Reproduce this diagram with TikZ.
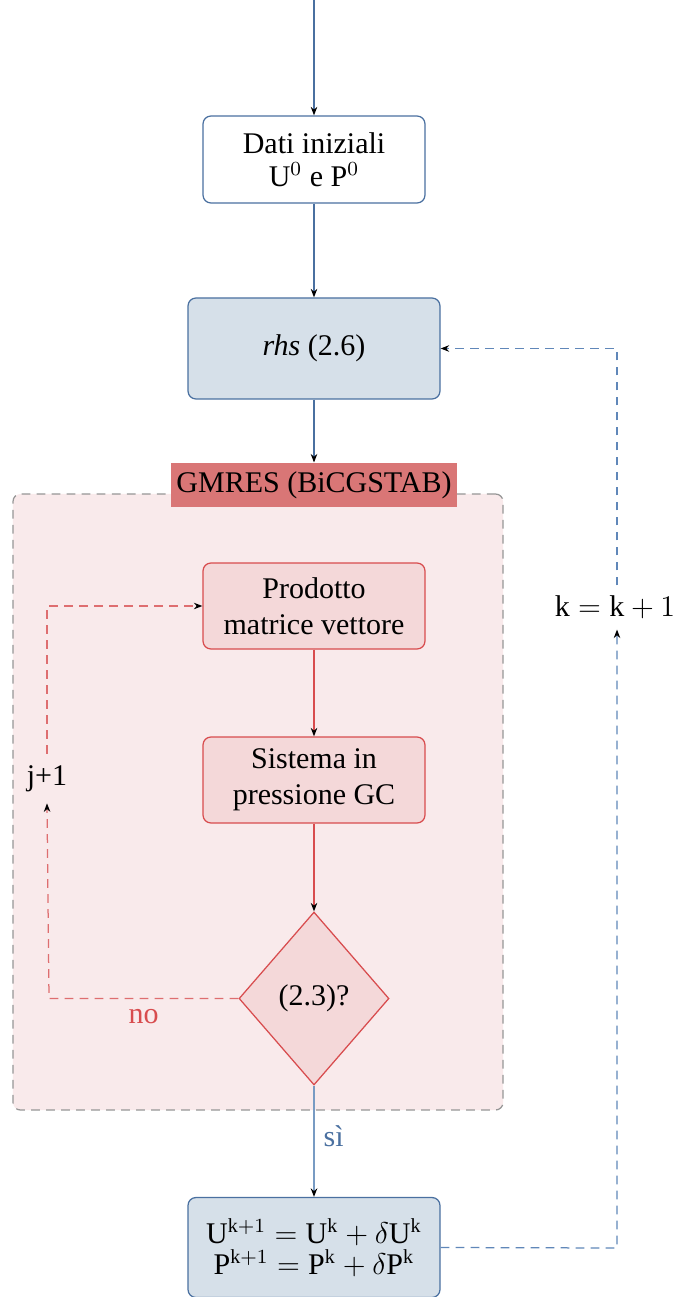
\documentclass[tikz,border=0pt]{standalone}
\usepackage{fontspec}
\setmainfont{Liberation Serif}
\usetikzlibrary{shapes.geometric,arrows.meta}
\definecolor{bborder}{RGB}{74,112,160}
\definecolor{bfill}{RGB}{214,224,233}
\definecolor{bdash}{RGB}{96,135,185}
\definecolor{bline}{RGB}{120,155,195}
\definecolor{rborder}{RGB}{216,76,78}
\definecolor{rfill}{RGB}{244,216,217}
\definecolor{pinkbg}{RGB}{249,234,235}
\definecolor{glabel}{RGB}{217,118,118}
\definecolor{gdash}{RGB}{150,150,150}
\definecolor{rdash}{RGB}{222,110,112}
\newcommand{\mU}{\mathrm{U}}
\newcommand{\mP}{\mathrm{P}}
\newcommand{\mk}{\mathrm{k}}
\begin{document}
\begin{tikzpicture}[x=0.4pt,y=-0.4pt,
  every node/.style={font=\fontsize{12}{14.4}\selectfont, align=center},
  tip/.style={-{Stealth[black,length=3.4pt,width=2.6pt]}},
  bluebox/.style={draw=bborder, line width=0.5pt, rounded corners=3.2pt},
  redbox/.style={draw=rborder, fill=rfill, line width=0.5pt, rounded corners=3.2pt,
    minimum width=88.8pt, minimum height=34.4pt, inner sep=1pt},
  dashpat/.style={dash pattern=on 3.5pt off 2.5pt},
  lbl/.style={inner sep=0pt}
]
\useasboundingbox (0,0) rectangle (677,1297);
% container
\node[draw=gdash, fill=pinkbg, dashpat, line width=0.5pt, rounded corners=3pt,
  minimum width=196pt, minimum height=246.4pt, inner sep=0pt] (gm) at (258,802) {};
\node[fill=glabel, minimum width=114.4pt, minimum height=17.6pt, inner sep=0pt] (gml) at (314,485) {GMRES (BiCGSTAB)};
% nodes
\coordinate (start) at (314,0);
\node[bluebox, fill=white, minimum width=88.8pt, minimum height=34.8pt, inner sep=1pt] (dati) at (314,159.5) {Dati iniziali\\[-1pt] $\mU^0$ e $\mP^0$};
\node[bluebox, fill=bfill, minimum width=100.8pt, minimum height=40.4pt] (rhs) at (314,348.5) {\textit{rhs} (2.6)};
\node[redbox] (prod) at (314,606) {Prodotto\\ matrice vettore};
\node[redbox] (sist) at (314,780) {Sistema in\\ pressione GC};
\node[diamond, draw=rborder, fill=rfill, line width=0.5pt, minimum width=60pt, minimum height=69.2pt, inner sep=1pt] (dia) at (314,998.5) {(2.3)?};
\node[bluebox, fill=bfill, minimum width=100.8pt, minimum height=40pt, inner sep=1pt] (fin) at (314,1247.5) {$\mU^{\mk+1}=\mU^\mk+\delta \mU^\mk$\\[-2pt] $\mP^{\mk+1}=\mP^\mk+\delta \mP^\mk$};
\node[inner xsep=1pt, inner ysep=4.5pt] (jp) at (47,778.5) {j+1};
\node[inner xsep=1pt, inner ysep=4pt] (kk) at (615,607.5) {$\mk=\mk+1$};
\coordinate (c1) at (49,998.5);
\coordinate (c2) at (617,1248);
% connectors
\draw[bborder, line width=0.5pt, tip] (start) -- (dati.north);
\draw[bborder, line width=0.5pt, tip] (dati.south) -- (rhs.north);
\draw[bborder, line width=0.5pt, tip] (rhs.south) -- (gml.north);
\draw[rborder, line width=0.5pt, tip] (prod.south) -- (sist.north);
\draw[rborder, line width=0.5pt, tip] (sist.south) -- (dia.north);
\draw[bline, line width=0.7pt, tip] (dia.south) -- node[right, lbl, text=bborder, xshift=3.5pt, yshift=2pt] {sì} (fin.north);
\draw[rdash, dashpat, line width=0.5pt, tip] (dia.west) -- node[below, lbl, text=rborder, pos=0.5, yshift=-4pt, xshift=0pt] {no} (c1) -- (jp.south);
\draw[rdash, dashpat, line width=0.5pt, tip] (jp.north) |- (prod.west);
\draw[bdash, dashpat, line width=0.5pt, tip] (fin.east) -- (c2) -- (c2 |- kk.south);
\draw[bdash, dashpat, line width=0.5pt, tip] (c2 |- kk.north) |- (rhs.east);
\end{tikzpicture}
\end{document}
